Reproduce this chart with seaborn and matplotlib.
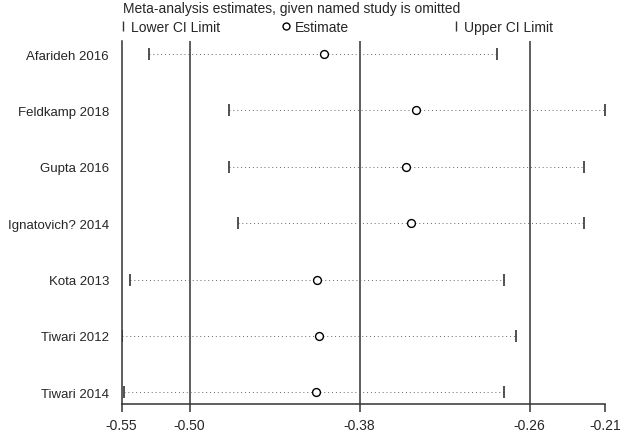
import numpy as np
import pandas as pd
import matplotlib
matplotlib.use('Agg')
import matplotlib.pyplot as plt
from matplotlib.lines import Line2D
import seaborn as sns

# Leave-one-out sensitivity analysis values
studies = ['Afarideh 2016', 'Feldkamp 2018', 'Gupta 2016', 'Ignatovich? 2014',
           'Kota 2013', 'Tiwari 2012', 'Tiwari 2014']
estimate = [-0.405, -0.340, -0.347, -0.344, -0.410, -0.409, -0.411]
lower_ci = [-0.529, -0.472, -0.472, -0.466, -0.542, -0.548, -0.546]
upper_ci = [-0.283, -0.207, -0.222, -0.222, -0.278, -0.270, -0.278]

# overall combined estimate and CI
overall = [-0.500, -0.380, -0.260]
x_ticks = [-0.548, -0.500, -0.380, -0.260, -0.207]
x_labels = ['-0.55', '-0.50', '-0.38', '-0.26', '-0.21']

df = pd.DataFrame({'study': studies, 'est': estimate, 'lo': lower_ci, 'hi': upper_ci})
df['pos'] = np.arange(len(df))

sns.set_theme(style='white')
plt.rcParams['font.family'] = ['Liberation Sans', 'DejaVu Sans']

fig, ax = plt.subplots(figsize=(6.3, 4.35), dpi=100)
fig.subplots_adjust(left=0.193, right=0.960, bottom=0.069, top=0.904)

line_col = '#333333'

# dotted lines lower -> estimate -> upper
for _, r in df.iterrows():
    ax.plot([r['lo'], r['est']], [r['pos'], r['pos']], color='#666666', lw=0.7, ls=(0, (1, 3)), zorder=1)
    ax.plot([r['est'], r['hi']], [r['pos'], r['pos']], color='#666666', lw=0.7, ls=(0, (1, 3)), zorder=1)

for v in overall:
    ax.axvline(v, color=line_col, lw=1.1, zorder=0)

sns.scatterplot(data=df, x='lo', y='pos', marker='|', s=70, linewidth=1.2, color=line_col, ax=ax, zorder=3)
sns.scatterplot(data=df, x='hi', y='pos', marker='|', s=70, linewidth=1.2, color=line_col, ax=ax, zorder=3)
sns.scatterplot(data=df, x='est', y='pos', marker='o', s=32, facecolor='white', edgecolor='black',
                linewidth=1.0, ax=ax, zorder=4)

ax.set_xlim(-0.548, -0.207)
ax.set_ylim(6.207, -0.236)
ax.set_xticks(x_ticks)
ax.set_xticklabels(x_labels, fontsize=10)
ax.set_yticks(df['pos'])
ax.set_yticklabels(studies, fontsize=9.5)
ax.tick_params(axis='x', length=6, width=1.1, color=line_col, pad=4, bottom=True)
ax.tick_params(axis='y', length=0, pad=9)
ax.set_xlabel(None)
ax.set_ylabel(None)
sns.despine(ax=ax)
for s in ['left', 'bottom']:
    ax.spines[s].set_color(line_col)
    ax.spines[s].set_linewidth(1.1)

fig.text(0.195, 0.980, 'Meta-analysis estimates, given named study is omitted',
         fontsize=10, va='center', ha='left')

leg_items = [
    (Line2D([], [], marker='|', ls='none', color=line_col, markersize=7, markeredgewidth=1.0), 'Lower CI Limit', 0.188),
    (Line2D([], [], marker='o', ls='none', markerfacecolor='white', markeredgecolor='black', markersize=5), 'Estimate', 0.448),
    (Line2D([], [], marker='|', ls='none', color=line_col, markersize=7, markeredgewidth=1.0), 'Upper CI Limit', 0.717),
]
for h, lab, xx in leg_items:
    fig.legend(handles=[h], labels=[lab], loc='center left', bbox_to_anchor=(xx, 0.935),
               frameon=False, handlelength=0.6, handletextpad=0.3, fontsize=10,
               borderpad=0, borderaxespad=0)

plt.savefig('out.png', dpi=100)
